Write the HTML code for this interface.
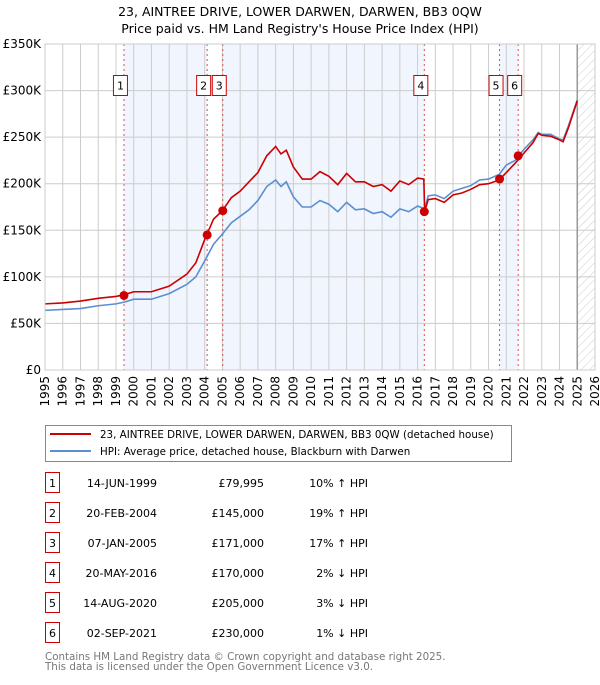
<!DOCTYPE html>
<html><head><meta charset="utf-8">
<style>
body{margin:0;background:#fff;font-family:"Liberation Sans","DejaVu Sans",sans-serif;}
svg text{font-family:"DejaVu Sans","Liberation Sans",sans-serif;}
</style></head>
<body>
<svg id="chart" width="600" height="680" viewBox="0 0 600 680" xmlns="http://www.w3.org/2000/svg">
<defs>
<pattern id="hatch" patternUnits="userSpaceOnUse" width="6" height="6" patternTransform="rotate(45)">
<line x1="0" y1="0" x2="0" y2="6" stroke="#ccc" stroke-width="1"/>
</pattern>
</defs>
<text x="300" y="16" text-anchor="middle" font-size="12.5">23, AINTREE DRIVE, LOWER DARWEN, DARWEN, BB3 0QW</text>
<text x="300" y="33" text-anchor="middle" font-size="12.5">Price paid vs. HM Land Registry's House Price Index (HPI)</text>
<g id="plot"></g>
<g>
<rect x="45.5" y="425.5" width="466" height="36" fill="#fff" stroke="#888"/>
<line x1="50" y1="434" x2="91" y2="434" stroke="#cc0000" stroke-width="2"/>
<text x="100" y="438" font-size="10.3">23, AINTREE DRIVE, LOWER DARWEN, DARWEN, BB3 0QW (detached house)</text>
<line x1="50" y1="451" x2="91" y2="451" stroke="#5b8fd0" stroke-width="2"/>
<text x="100" y="455" font-size="10.3">HPI: Average price, detached house, Blackburn with Darwen</text>
</g>
<g id="table"></g>
<text x="45" y="660" font-size="10.3" fill="#777">Contains HM Land Registry data © Crown copyright and database right 2025.</text>
<text x="45" y="670" font-size="10.3" fill="#777">This data is licensed under the Open Government Licence v3.0.</text>
</svg>
<script>
const hpiYears=[1995,1996,1997,1998,1999,1999.5,2000,2001,2002,2003,2003.5,2004,2004.5,2005,2005.5,2006,2006.5,2007,2007.5,2008,2008.3,2008.6,2009,2009.5,2010,2010.5,2011,2011.5,2012,2012.5,2013,2013.5,2014,2014.5,2015,2015.5,2016,2016.4,2016.6,2017,2017.5,2018,2018.5,2019,2019.5,2020,2020.6,2021,2021.5,2022,2022.5,2022.8,2023,2023.5,2024,2024.2,2024.5,2025];
const hpiValues=[64,65,66,69,71,73,76,76,82,92,100,117,135,146,158,165,172,182,197,204,197,202,186,175,175,182,178,170,180,172,173,168,170,164,173,170,176,173,187,188,184,192,195,198,204,205,210,220,225,237,247,255,253,253,248,247,262,290];
const priceYears=[1995,1996,1997,1998,1999,1999.5,2000,2001,2002,2003,2003.5,2004,2004.5,2005,2005.5,2006,2006.5,2007,2007.5,2008,2008.3,2008.6,2009,2009.5,2010,2010.5,2011,2011.5,2012,2012.5,2013,2013.5,2014,2014.5,2015,2015.5,2016,2016.35,2016.4,2016.6,2017,2017.5,2018,2018.5,2019,2019.5,2020,2020.6,2021,2021.5,2022,2022.5,2022.8,2023,2023.5,2024,2024.2,2024.5,2025];
const priceValues=[71,72,74,77,79,81,84,84,90,103,115,140,162,171,185,192,202,212,230,240,232,236,218,205,205,213,208,199,211,202,202,197,199,192,203,199,206,205,170,183,184,180,188,190,194,199,200,204,212,222,233,244,254,252,251,247,245,260,289];
const saleLabels=["1","2","3","4","5","6"];
const saleYears=[1999.45,2004.14,2005.02,2016.38,2020.62,2021.67];
const salePrices=[79.995,145,171,170,205,230];
const saleDates=["14-JUN-1999","20-FEB-2004","07-JAN-2005","20-MAY-2016","14-AUG-2020","02-SEP-2021"];
const salePriceText=["£79,995","£145,000","£171,000","£170,000","£205,000","£230,000"];
const saleHpiText=["10% ↑ HPI","19% ↑ HPI","17% ↑ HPI","2% ↓ HPI","3% ↓ HPI","1% ↓ HPI"];
const yTicks=[0,50,100,150,200,250,300,350];
const yTickLabels=["£0","£50K","£100K","£150K","£200K","£250K","£300K","£350K"];
const xTicks=[1995,1996,1997,1998,1999,2000,2001,2002,2003,2004,2005,2006,2007,2008,2009,2010,2011,2012,2013,2014,2015,2016,2017,2018,2019,2020,2021,2022,2023,2024,2025,2026];

const NS="http://www.w3.org/2000/svg";
const L=45,R=595,T=44,B=370;
const x=v=>L+(v-1995)*(R-L)/31;
const y=v=>B-v*(B-T)/350;
const plot=document.getElementById('plot');
function mk(tag,attrs,parent){const e=document.createElementNS(NS,tag);for(const k in attrs)e.setAttribute(k,attrs[k]);(parent||plot).appendChild(e);return e;}

for(let i=0;i<saleYears.length;i+=2){
  const a=saleYears[i],b=(i+1<saleYears.length)?saleYears[i+1]:2025;
  const r=mk('rect',{x:x(a),y:T,width:x(b)-x(a),height:B-T,fill:'#eef3fc',opacity:0.8});
  
  
}
const h=mk('rect',{x:x(2025),y:T,width:R-x(2025),height:B-T,fill:'url(#hatch)'});


xTicks.forEach(t=>{
  const g=mk('line',{x1:x(t),x2:x(t),y1:T,y2:B,stroke:'#ccc','stroke-width':1});
  
  
  const tx=mk('text',{x:x(t)+4,y:B+6,'font-size':12,'text-anchor':'end',transform:`rotate(-90 ${x(t)+4} ${B+6})`});
  tx.textContent=t;
  
  
});
yTicks.forEach((t,i)=>{
  const g=mk('line',{x1:L,x2:R,y1:y(t),y2:y(t),stroke:'#ccc','stroke-width':1});
  
  
  const tx=mk('text',{x:L-4,y:y(t)+4,'font-size':12,'text-anchor':'end'});
  tx.textContent=yTickLabels[i];
  
  
});
const nowLine=mk('line',{x1:x(2025),x2:x(2025),y1:T,y2:B,stroke:'#999','stroke-width':1.5});


saleYears.forEach(s=>{
  const d=mk('line',{x1:x(s),x2:x(s),y1:T,y2:B,stroke:'#e05050','stroke-width':1,'stroke-dasharray':'2,3'});
  
  
});
const hp=mk('polyline',{points:hpiYears.map((v,i)=>x(v)+','+y(hpiValues[i])).join(' '),fill:'none',stroke:'#5b8fd0','stroke-width':1.6});


const pp=mk('polyline',{points:priceYears.map((v,i)=>x(v)+','+y(priceValues[i])).join(' '),fill:'none',stroke:'#cc0000','stroke-width':1.6});


saleYears.forEach((s,i)=>{
  const c=mk('circle',{cx:x(s),cy:y(salePrices[i]),r:4.5,fill:'#cc0000'});
  
  
  const cx=x(s)-3.5;
  const r=mk('rect',{x:cx-7,y:75.5,width:14,height:20,fill:'#fff',stroke:'#cc0000'});
  
  
  const t=mk('text',{x:cx,y:89.5,'font-size':11,'text-anchor':'middle'});
  t.textContent=saleLabels[i];
  
  
});
const frame=mk('rect',{x:L,y:T,width:R-L,height:B-T,fill:'none',stroke:'#ccc'});


const tb=document.getElementById('table');
saleLabels.forEach((lab,i)=>{
  const yy=483+i*30;
  const r=mk('rect',{x:45.5,y:yy-10.5,width:14,height:20,fill:'#fff',stroke:'#cc0000'},tb);
  
  
  const a=mk('text',{x:52.5,y:yy+4,'font-size':11,'text-anchor':'middle'},tb);a.textContent=lab;
  
  
  const d=mk('text',{x:157,y:yy+4,'font-size':11,'text-anchor':'end'},tb);d.textContent=saleDates[i];
  
  
  const p=mk('text',{x:264,y:yy+4,'font-size':11,'text-anchor':'end'},tb);p.textContent=salePriceText[i];
  
  
  const q=mk('text',{x:368,y:yy+4,'font-size':11,'text-anchor':'end'},tb);q.textContent=saleHpiText[i];
  
  
});
</script>
</body></html>
